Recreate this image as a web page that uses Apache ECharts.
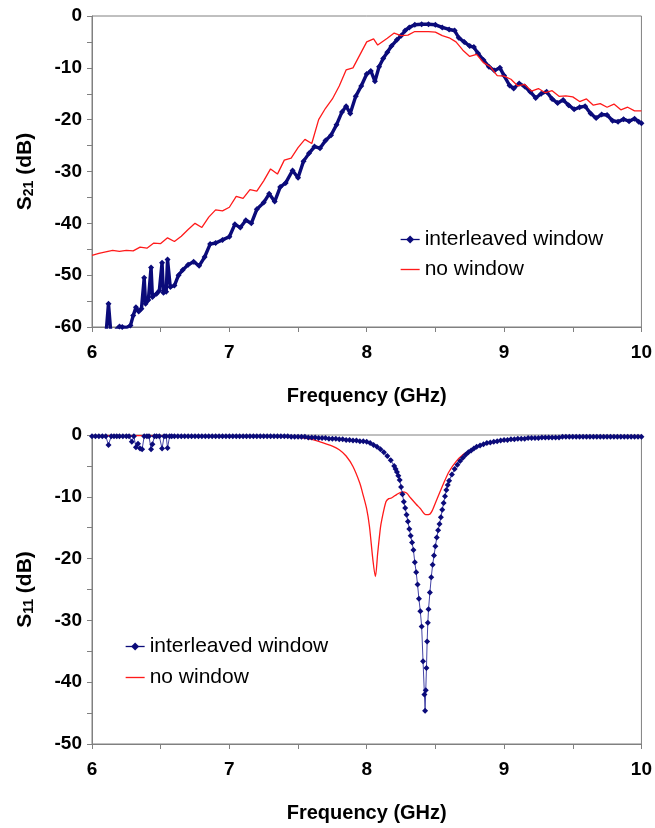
<!DOCTYPE html>
<html>
<head>
<meta charset="utf-8">
<script src="https://cdn.jsdelivr.net/npm/echarts@6/dist/echarts.min.js"></script>
<style>
html,body{margin:0;padding:0;background:#fff;}
#chart{width:655px;height:828px;}
</style>
</head>
<body>
<div id="chart"></div>
<script>
// ---------- S21 (top) ----------
const s21BlueFreq = [6.00,6.05,6.10,6.12,6.14,6.18,6.20,6.22,6.25,6.28,6.30,6.32,6.34,6.36,6.38,6.39,6.41,6.43,6.44,6.47,6.49,6.51,6.52,6.54,6.55,6.57,6.60,6.63,6.66,6.70,6.74,6.78,6.82,6.86,6.90,6.95,7.00,7.04,7.08,7.12,7.16,7.20,7.25,7.29,7.33,7.37,7.41,7.46,7.50,7.54,7.58,7.62,7.66,7.70,7.74,7.78,7.82,7.85,7.88,7.92,7.96,8.00,8.03,8.06,8.09,8.12,8.15,8.18,8.22,8.25,8.28,8.31,8.35,8.40,8.45,8.50,8.55,8.60,8.64,8.67,8.71,8.75,8.78,8.81,8.85,8.89,8.93,8.97,9.00,9.04,9.07,9.11,9.15,9.19,9.23,9.27,9.31,9.35,9.39,9.43,9.47,9.51,9.55,9.59,9.63,9.67,9.71,9.75,9.79,9.83,9.87,9.91,9.95,9.98,10.00];
const s21BlueDb = [-63,-64,-62,-55.5,-62,-60.3,-59.9,-60.0,-60.1,-59.7,-57.8,-56.2,-57.0,-56.5,-50.5,-55.5,-54.8,-48.5,-54.2,-53.6,-53.0,-47.6,-53.4,-53.2,-47.0,-52.3,-52.0,-50.0,-49.0,-48.0,-47.4,-48.2,-46.5,-44.0,-43.8,-43.2,-42.6,-40.2,-40.8,-39.4,-40.0,-37.3,-36.0,-34.3,-35.8,-33.0,-32.2,-29.8,-31.2,-28.0,-26.5,-25.2,-25.5,-24.0,-23.0,-21.0,-18.5,-17.4,-18.8,-15.5,-13.5,-11.2,-10.6,-12.6,-9.8,-8.2,-7.0,-5.8,-4.6,-3.8,-2.8,-2.2,-1.7,-1.6,-1.6,-1.7,-2.2,-2.6,-2.8,-4.2,-5.0,-5.8,-6.0,-7.2,-8.5,-9.8,-10.5,-10.0,-11.5,-13.4,-14.0,-13.0,-13.6,-14.6,-15.8,-15.0,-14.6,-16.0,-16.8,-16.2,-17.2,-18.0,-17.6,-17.4,-18.8,-19.7,-19.0,-19.1,-20.2,-20.4,-19.9,-20.3,-19.8,-20.4,-20.7];

const s21RedFreq = [6.00,6.05,6.10,6.15,6.20,6.25,6.30,6.35,6.40,6.45,6.50,6.55,6.60,6.65,6.70,6.75,6.80,6.85,6.90,6.95,7.00,7.05,7.10,7.15,7.20,7.25,7.30,7.35,7.40,7.45,7.50,7.55,7.60,7.65,7.70,7.75,7.80,7.85,7.90,7.95,8.00,8.05,8.08,8.15,8.20,8.25,8.30,8.35,8.40,8.45,8.50,8.55,8.60,8.65,8.70,8.75,8.80,8.85,8.90,8.95,9.00,9.05,9.10,9.15,9.20,9.25,9.30,9.35,9.40,9.45,9.50,9.55,9.60,9.65,9.70,9.75,9.80,9.85,9.90,9.95,10.00];
const s21RedDb = [-46.2,-45.8,-45.5,-45.2,-45.4,-45.2,-45.3,-44.6,-44.8,-43.8,-43.9,-42.8,-43.5,-42.5,-41.2,-40.0,-40.8,-38.8,-37.4,-37.6,-36.9,-34.8,-35.2,-33.5,-33.8,-31.8,-29.5,-30.5,-27.8,-27.4,-25.4,-23.8,-24.6,-20.0,-17.8,-16.0,-13.5,-10.4,-10.0,-7.5,-5.0,-4.4,-5.6,-4.3,-3.3,-3.8,-3.7,-3.0,-3.0,-3.0,-3.1,-3.8,-4.2,-5.0,-6.6,-7.8,-7.4,-9.0,-9.8,-11.5,-11.6,-12.2,-13.5,-13.2,-14.5,-14.0,-14.8,-14.4,-15.5,-15.4,-15.6,-16.5,-16.0,-17.2,-16.9,-17.6,-17.0,-18.1,-17.6,-18.3,-18.3];

// ---------- S11 (bottom) ----------
const s11BlueFreq = [6.000,6.025,6.050,6.075,6.100,6.120,6.140,6.160,6.180,6.200,6.225,6.250,6.270,6.290,6.305,6.320,6.335,6.350,6.365,6.380,6.400,6.415,6.430,6.440,6.455,6.470,6.490,6.510,6.525,6.540,6.550,6.565,6.580,6.600,6.625,6.650,6.675,6.700,6.725,6.750,6.775,6.800,6.825,6.850,6.875,6.900,6.925,6.950,6.975,7.000,7.025,7.050,7.075,7.100,7.125,7.150,7.175,7.200,7.225,7.250,7.275,7.300,7.325,7.350,7.375,7.400,7.425,7.450,7.475,7.500,7.525,7.550,7.575,7.600,7.625,7.650,7.675,7.700,7.725,7.750,7.775,7.800,7.825,7.850,7.875,7.900,7.925,7.950,7.975,8.000,8.025,8.050,8.075,8.100,8.125,8.150,8.175,8.200,8.210,8.220,8.230,8.240,8.250,8.260,8.270,8.280,8.290,8.300,8.310,8.320,8.330,8.340,8.350,8.360,8.370,8.380,8.390,8.400,8.410,8.420,8.425,8.430,8.435,8.440,8.445,8.450,8.460,8.470,8.480,8.490,8.500,8.510,8.520,8.530,8.540,8.550,8.560,8.570,8.580,8.590,8.600,8.620,8.640,8.660,8.680,8.700,8.720,8.740,8.760,8.780,8.800,8.825,8.850,8.875,8.900,8.925,8.950,8.975,9.000,9.025,9.050,9.075,9.100,9.125,9.150,9.175,9.200,9.225,9.250,9.275,9.300,9.325,9.350,9.375,9.400,9.425,9.450,9.475,9.500,9.525,9.550,9.575,9.600,9.625,9.650,9.675,9.700,9.725,9.750,9.775,9.800,9.825,9.850,9.875,9.900,9.925,9.950,9.975,10.000];
const s11BlueDb = [-0.2,-0.2,-0.2,-0.2,-0.2,-1.6,-0.2,-0.2,-0.2,-0.2,-0.2,-0.2,-0.2,-1.1,-0.2,-2.0,-1.4,-2.2,-2.3,-0.2,-0.2,-0.2,-2.3,-1.5,-0.2,-0.2,-0.2,-2.2,-0.2,-0.2,-2.1,-0.2,-0.2,-0.2,-0.2,-0.2,-0.2,-0.2,-0.2,-0.2,-0.2,-0.2,-0.2,-0.2,-0.2,-0.2,-0.2,-0.2,-0.2,-0.2,-0.2,-0.2,-0.2,-0.2,-0.2,-0.2,-0.2,-0.2,-0.2,-0.2,-0.2,-0.2,-0.2,-0.2,-0.2,-0.2,-0.2,-0.3,-0.3,-0.3,-0.3,-0.3,-0.4,-0.4,-0.4,-0.5,-0.5,-0.5,-0.6,-0.6,-0.6,-0.7,-0.7,-0.8,-0.8,-0.9,-0.9,-1.0,-1.0,-1.1,-1.3,-1.6,-1.9,-2.3,-2.8,-3.4,-4.1,-5.0,-5.5,-6.0,-6.6,-7.3,-8.4,-9.6,-10.8,-11.8,-12.9,-14.0,-15.2,-16.3,-17.4,-18.6,-20.6,-22.2,-24.2,-26.5,-28.5,-31.0,-36.6,-42.0,-44.6,-41.3,-37.7,-33.4,-30.4,-28.2,-25.5,-23.0,-21.0,-19.5,-18.0,-16.6,-15.4,-14.4,-13.3,-12.1,-11.0,-9.9,-8.9,-8.1,-7.4,-6.4,-5.5,-4.8,-4.2,-3.7,-3.2,-2.8,-2.5,-2.2,-1.9,-1.7,-1.5,-1.3,-1.2,-1.1,-1.0,-0.9,-0.8,-0.8,-0.7,-0.7,-0.6,-0.6,-0.6,-0.5,-0.5,-0.5,-0.5,-0.4,-0.4,-0.4,-0.4,-0.4,-0.4,-0.3,-0.3,-0.3,-0.3,-0.3,-0.3,-0.3,-0.3,-0.3,-0.3,-0.3,-0.3,-0.3,-0.3,-0.3,-0.3,-0.3,-0.3,-0.3,-0.3,-0.3,-0.3,-0.3,-0.3,-0.3,-0.3,-0.3,-0.3,-0.3];

const s11RedFreq = [6.0,6.5,7.0,7.3,7.5,7.6,7.66,7.75,7.8,7.85,7.9,7.95,7.97,8.0,8.02,8.045,8.063,8.08,8.1,8.11,8.14,8.16,8.18,8.22,8.26,8.29,8.32,8.36,8.39,8.43,8.46,8.48,8.5,8.53,8.56,8.6,8.65,8.7,8.75,8.8,8.9,9.0,9.2,9.5,10.0];
const s11RedDb = [-0.1,-0.1,-0.1,-0.2,-0.4,-0.7,-1.1,-1.8,-2.4,-3.4,-5.1,-7.8,-9.4,-12.0,-14.8,-20.2,-22.9,-19.1,-15.0,-13.7,-10.8,-10.3,-10.2,-9.6,-9.2,-9.4,-10.2,-11.2,-11.9,-12.9,-12.8,-12.1,-11.0,-9.4,-7.8,-5.9,-4.3,-3.2,-2.5,-1.9,-1.3,-0.9,-0.5,-0.3,-0.2];

const seriesNames = ['interleaved window', 'no window'];
const xTicks = {min: 6, max: 10, step: 0.5};
const s21Ticks = {min: -60, max: 0, step: 5};
const s11Ticks = {min: -50, max: 0, step: 5};

const pair = (xs, ys) => xs.map((x, i) => [x, ys[i]]);
const FONT = 'Liberation Sans, Arial, sans-serif';
const GRAY = '#808080';
const BLUE = '#0b0b7a';
const RED = '#ff1a1a';

function xAxisFor(gi) {
  return {
    type: 'value', gridIndex: gi, min: xTicks.min, max: xTicks.max, interval: xTicks.step,
    axisLine: {show: true, onZero: false, lineStyle: {color: GRAY, width: 1}},
    axisTick: {show: true, length: 5, inside: false, lineStyle: {color: GRAY}},
    splitLine: {show: false},
    axisLabel: {formatter: v => (Math.abs(v - Math.round(v)) < 1e-9 ? String(Math.round(v)) : ''),
      fontSize: 19, fontWeight: 'bold', color: '#000', fontFamily: FONT, margin: 16},
    name: 'Frequency (GHz)', nameLocation: 'middle', nameGap: 59,
    nameTextStyle: {fontSize: 20, fontWeight: 'bold', color: '#000', fontFamily: FONT}
  };
}
function yAxisFor(gi, t, sub) {
  return {
    type: 'value', gridIndex: gi, min: t.min, max: t.max, interval: t.step,
    axisLine: {show: true, onZero: false, lineStyle: {color: GRAY, width: 1}},
    axisTick: {show: true, length: 5, lineStyle: {color: GRAY}},
    splitLine: {show: false},
    axisLabel: {formatter: v => (v % 10 === 0 ? String(v) : ''),
      fontSize: 19, fontWeight: 'bold', color: '#000', fontFamily: FONT, margin: 10},
    name: '{a|S}{s|' + sub + '}{a| (dB)}', nameLocation: 'middle', nameGap: 56,
    nameTextStyle: {color: '#000', fontFamily: FONT,
      rich: {a: {fontSize: 21, fontWeight: 'bold', fontFamily: FONT, color: '#000'},
             s: {fontSize: 14, fontWeight: 'bold', fontFamily: FONT, color: '#000', verticalAlign: 'bottom', padding: [8, 0, 0, 0]}}}
  };
}
function legendAt(left, top, gap) {
  return {
    data: [
      {name: seriesNames[0]},
      {name: seriesNames[1], icon: 'path://M0,0 H20 V1.4 H0 Z'}
    ],
    orient: 'vertical', left: left, top: top, padding: 0,
    itemWidth: 19, itemHeight: 10, itemGap: gap,
    lineStyle: {width: 1.3},
    textStyle: {fontSize: 21, fontFamily: FONT, color: '#000'},
    selectedMode: false
  };
}

const chart = echarts.init(document.getElementById('chart'), null, {renderer: 'canvas'});
chart.setOption({
  animation: false,
  backgroundColor: '#fff',
  grid: [
    {left: 92, right: 13, top: 16, height: 311, show: true, borderColor: GRAY, borderWidth: 1, containLabel: false},
    {left: 92, right: 13, top: 435, height: 309, show: true, borderColor: GRAY, borderWidth: 1, containLabel: false}
  ],
  xAxis: [xAxisFor(0), xAxisFor(1)],
  yAxis: [yAxisFor(0, s21Ticks, '21'), yAxisFor(1, s11Ticks, '11')],
  legend: [legendAt(400, 229, 9), legendAt(125, 636, 10)],
  series: [
    {name: seriesNames[0], type: 'line', xAxisIndex: 0, yAxisIndex: 0, data: pair(s21BlueFreq, s21BlueDb),
     symbol: 'diamond', symbolSize: 6, showSymbol: true, clip: true,
     lineStyle: {color: BLUE, width: 3.4}, itemStyle: {color: BLUE}, z: 2},
    {name: seriesNames[1], type: 'line', xAxisIndex: 0, yAxisIndex: 0, data: pair(s21RedFreq, s21RedDb),
     symbol: 'none', clip: true, lineStyle: {color: RED, width: 1.3}, itemStyle: {color: RED}, z: 3},
    {name: seriesNames[0], type: 'line', xAxisIndex: 1, yAxisIndex: 1, data: pair(s11BlueFreq, s11BlueDb),
     symbol: 'diamond', symbolSize: 6, showSymbol: true, clip: false,
     lineStyle: {color: '#4444a6', width: 1}, itemStyle: {color: BLUE}, z: 3},
    {name: seriesNames[1], type: 'line', xAxisIndex: 1, yAxisIndex: 1, data: pair(s11RedFreq, s11RedDb),
     symbol: 'none', smooth: 0.3, clip: true, lineStyle: {color: RED, width: 1.3}, itemStyle: {color: RED}, z: 2}
  ]
});
</script>
</body>
</html>
